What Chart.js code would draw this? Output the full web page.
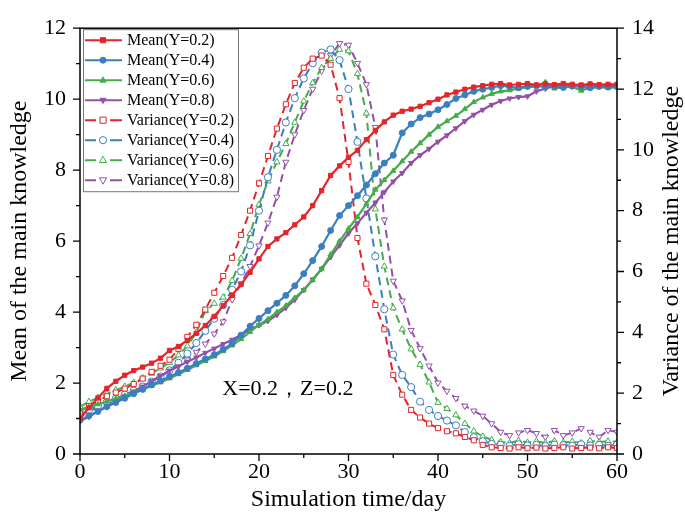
<!DOCTYPE html>
<html><head><meta charset="utf-8">
<script src="https://cdn.jsdelivr.net/npm/chart.js@4"></script>
<style>html,body{margin:0;padding:0;background:#fff}#wrap{width:685px;height:513px}</style>
</head><body><div id="wrap"><canvas id="c" width="685" height="513"></canvas></div>
<script>
// ---------------- DATA ----------------
const days = [0,1,2,3,4,5,6,7,8,9,10,11,12,13,14,15,16,17,18,19,20,21,22,23,24,25,26,27,28,29,30,
  31,32,33,34,35,36,37,38,39,40,41,42,43,44,45,46,47,48,49,50,51,52,53,54,55,56,57,58,59,60];
const xTicks = [0,10,20,30,40,50,60];
const meanY02 = [1.00,1.30,1.58,1.85,2.05,2.22,2.35,2.45,2.56,2.70,2.92,3.03,3.20,3.40,3.62,3.88,4.18,4.48,4.78,5.12,5.50,
  5.85,6.06,6.24,6.46,6.68,7.00,7.42,7.85,8.12,8.36,8.56,8.86,9.12,9.36,9.55,9.66,9.72,9.80,9.90,10.00,
  10.12,10.20,10.28,10.34,10.38,10.42,10.44,10.40,10.42,10.44,10.40,10.43,10.41,10.44,10.42,10.40,10.43,10.41,10.42,10.42];
const meanY04 = [0.95,1.08,1.20,1.33,1.45,1.57,1.70,1.82,1.95,2.06,2.18,2.30,2.42,2.55,2.68,2.80,2.95,3.12,3.35,3.60,3.82,
  4.04,4.25,4.47,4.74,5.08,5.45,5.85,6.30,6.72,7.00,7.28,7.58,7.90,8.20,8.42,9.05,9.30,9.48,9.58,9.70,
  9.85,10.02,10.12,10.22,10.28,10.33,10.38,10.35,10.32,10.36,10.38,10.34,10.36,10.33,10.37,10.35,10.32,10.36,10.34,10.36];
const meanY06 = [1.25,1.32,1.40,1.48,1.56,1.64,1.73,1.82,1.92,2.02,2.13,2.25,2.37,2.50,2.62,2.75,2.90,3.06,3.24,3.44,3.64,
  3.80,4.00,4.18,4.40,4.62,4.90,5.22,5.62,6.00,6.35,6.68,7.05,7.45,7.72,7.98,8.25,8.52,8.76,9.00,9.22,
  9.38,9.53,9.72,9.92,10.05,10.15,10.22,10.25,10.30,10.34,10.36,10.48,10.30,10.34,10.35,10.24,10.32,10.34,10.32,10.33];
const meanY08 = [0.92,1.05,1.20,1.35,1.50,1.63,1.76,1.90,2.05,2.20,2.35,2.47,2.60,2.72,2.85,2.97,3.10,3.22,3.36,3.50,3.63,
  3.75,3.92,4.12,4.35,4.62,4.92,5.22,5.55,5.88,6.22,6.50,6.80,7.08,7.38,7.68,7.92,8.20,8.42,8.60,8.80,
  8.98,9.18,9.38,9.56,9.70,9.84,9.95,10.02,10.06,10.08,10.22,10.30,10.36,10.38,10.36,10.40,10.38,10.36,10.40,10.38];
const varY02 = [1.40,1.58,1.75,1.90,2.02,2.15,2.30,2.48,2.70,2.90,3.10,3.45,3.85,4.25,4.75,5.30,5.85,6.45,7.20,8.00,8.90,
  9.80,10.70,11.50,12.20,12.70,13.00,13.10,12.80,11.70,9.60,7.10,5.60,4.90,4.10,2.60,1.95,1.45,1.20,1.00,0.85,
  0.75,0.68,0.56,0.45,0.30,0.22,0.20,0.18,0.22,0.19,0.21,0.18,0.20,0.22,0.18,0.20,0.21,0.19,0.22,0.20];
const varY04 = [1.30,1.45,1.58,1.70,1.82,1.95,2.08,2.22,2.38,2.55,2.75,3.00,3.30,3.65,4.05,4.45,4.90,5.40,6.00,6.86,8.00,
  9.10,10.00,10.90,11.70,12.35,12.85,13.20,13.30,12.95,12.00,10.26,8.40,6.50,4.76,3.27,2.60,2.20,1.72,1.45,1.25,
  1.10,0.94,0.72,0.55,0.42,0.33,0.30,0.27,0.32,0.28,0.30,0.26,0.31,0.29,0.27,0.32,0.28,0.30,0.27,0.31];
const varY06 = [1.55,1.72,1.85,1.98,2.10,2.22,2.35,2.50,2.65,2.82,3.00,3.25,3.55,4.00,4.70,4.95,5.15,5.70,6.43,7.24,8.20,
  8.97,9.60,10.20,10.90,11.60,12.20,12.70,13.00,13.30,13.25,12.50,11.20,8.05,6.17,4.80,4.10,3.45,2.94,2.36,1.69,
  1.49,1.28,1.00,0.75,0.58,0.46,0.40,0.36,0.44,0.38,0.42,0.36,0.43,0.38,0.41,0.36,0.44,0.39,0.42,0.40];
const varY08 = [1.30,1.42,1.52,1.62,1.75,1.88,2.02,2.20,2.40,2.55,2.72,2.90,3.10,3.35,3.62,3.95,4.35,5.08,5.60,6.17,6.85,
  7.60,8.45,9.60,10.50,11.30,12.00,12.60,13.10,13.50,13.45,12.85,12.15,10.74,7.70,5.69,5.04,4.07,3.47,2.90,2.34,
  2.07,1.83,1.58,1.42,1.25,1.00,0.72,0.61,0.70,0.78,0.68,0.56,0.78,0.61,0.70,0.84,0.72,0.56,0.78,0.72];
const seriesLabels = ['Mean(Y=0.2)','Mean(Y=0.4)','Mean(Y=0.6)','Mean(Y=0.8)',
  'Variance(Y=0.2)','Variance(Y=0.4)','Variance(Y=0.6)','Variance(Y=0.8)'];
const annotationText = 'X=0.2\uFF0CZ=0.2';

// ---------------- STYLE ----------------
const FONT = "'Liberation Serif','Times New Roman',serif";
Chart.defaults.font.family = FONT;
Chart.defaults.color = '#000';
const RED='#e3262b', BLUE='#3a7fc0', GREEN='#45ac4a', PURPLE='#9450a8';

function mk(label, vals, color, style, rot, dashed, axis) {
  return {
    label, yAxisID: axis,
    data: days.map((d,i)=>({x:d, y:vals[i]})),
    borderColor: color, backgroundColor: dashed ? '#fff' : color,
    borderWidth: dashed ? 2 : 2.2, borderDash: dashed ? [8,5] : [],
    pointStyle: style, pointRotation: rot,
    pointRadius: dashed ? 3.6 : 3, pointBorderWidth: 1,
    pointBorderColor: color, pointBackgroundColor: dashed ? '#fff' : color,
    tension: 0, fill: false, _dashed: dashed
  };
}
const datasets = [
  mk(seriesLabels[0], meanY02, RED, 'rect', 0, false, 'y'),
  mk(seriesLabels[1], meanY04, BLUE, 'circle', 0, false, 'y'),
  mk(seriesLabels[2], meanY06, GREEN, 'triangle', 0, false, 'y'),
  mk(seriesLabels[3], meanY08, PURPLE, 'triangle', 180, false, 'y'),
  mk(seriesLabels[4], varY02, RED, 'rect', 0, true, 'y1'),
  mk(seriesLabels[5], varY04, BLUE, 'circle', 0, true, 'y1'),
  mk(seriesLabels[6], varY06, GREEN, 'triangle', 0, true, 'y1'),
  mk(seriesLabels[7], varY08, PURPLE, 'triangle', 180, true, 'y1'),
];

function drawMarker(ctx, style, rot, r, x, y, fill, stroke) {
  ctx.save();
  ctx.translate(x, y); ctx.rotate(rot*Math.PI/180);
  ctx.beginPath();
  if (style === 'rect') { const s = r*0.85; ctx.rect(-s,-s,2*s,2*s); }
  else if (style === 'circle') { ctx.arc(0,0,r,0,Math.PI*2); }
  else { ctx.moveTo(0,-r*1.1); ctx.lineTo(r*1.0, r*0.65); ctx.lineTo(-r*1.0, r*0.65); ctx.closePath(); }
  ctx.fillStyle = fill; ctx.fill();
  ctx.lineWidth = 1; ctx.strokeStyle = stroke; ctx.setLineDash([]); ctx.stroke();
  ctx.restore();
}

const decor = {
  id: 'decor',
  afterDraw(chart) {
    const {ctx, chartArea: a, scales} = chart;
    ctx.save();
    // frame
    ctx.strokeStyle = '#000'; ctx.lineWidth = 1.5; ctx.setLineDash([]);
    ctx.strokeRect(a.left, a.top, a.right - a.left, a.bottom - a.top);
    // ticks
    ctx.lineWidth = 1.3;
    ctx.beginPath();
    for (let v = 0; v <= 60; v += 5) {
      const px = scales.x.getPixelForValue(v), len = v % 10 === 0 ? 7 : 4;
      ctx.moveTo(px, a.bottom); ctx.lineTo(px, a.bottom + len);
    }
    for (let v = 0; v <= 12; v += 1) {
      const py = scales.y.getPixelForValue(v), len = v % 2 === 0 ? 7 : 4;
      ctx.moveTo(a.left, py); ctx.lineTo(a.left - len, py);
    }
    for (let v = 0; v <= 14; v += 1) {
      const py = scales.y1.getPixelForValue(v), len = v % 2 === 0 ? 7 : 4;
      ctx.moveTo(a.right, py); ctx.lineTo(a.right + len, py);
    }
    ctx.stroke();
    // right axis title (reads bottom-to-top)
    ctx.fillStyle = '#000';
    ctx.font = '24px ' + FONT;
    ctx.save();
    ctx.translate(672, (a.top + a.bottom)/2);
    ctx.rotate(-Math.PI/2);
    ctx.textAlign = 'center'; ctx.textBaseline = 'middle';
    ctx.fillText('Variance of the main knowledge', 0, 0);
    ctx.restore();
    // annotation
    ctx.font = '22px ' + FONT;
    ctx.textAlign = 'left'; ctx.textBaseline = 'middle';
    ctx.fillText(annotationText, scales.x.getPixelForValue(15.9), scales.y.getPixelForValue(1.83));
    // legend
    const lx = a.left + 3, ly = a.top + 1, lw = 155, lh = 162;
    ctx.fillStyle = '#fff'; ctx.fillRect(lx, ly, lw, lh);
    ctx.strokeStyle = '#777'; ctx.lineWidth = 1; ctx.strokeRect(lx + 0.5, ly + 0.5, lw, lh);
    ctx.font = '16px ' + FONT;
    chart.data.datasets.forEach((d, i) => {
      const y = ly + 11 + i * 20;
      ctx.strokeStyle = d.borderColor; ctx.lineWidth = 2; ctx.setLineDash([]);
      ctx.beginPath();
      if (d._dashed) {
        ctx.moveTo(lx + 2, y); ctx.lineTo(lx + 13, y);
        ctx.moveTo(lx + 27, y); ctx.lineTo(lx + 39, y);
      } else {
        ctx.moveTo(lx + 2, y); ctx.lineTo(lx + 39, y);
      }
      ctx.stroke();
      drawMarker(ctx, d.pointStyle, d.pointRotation, d._dashed ? 3.6 : 3, lx + 20, y,
        d.pointBackgroundColor, d.pointBorderColor);
      ctx.fillStyle = '#000';
      ctx.textAlign = 'left'; ctx.textBaseline = 'middle';
      ctx.fillText(d.label, lx + 44, y + 1);
    });
    ctx.restore();
  }
};

new Chart(document.getElementById('c'), {
  type: 'line',
  data: { datasets },
  options: {
    responsive: false, animation: false, devicePixelRatio: 1,
    layout: { padding: { top: 21, left: 0, right: 0, bottom: 0 } },
    plugins: { legend: { display: false }, tooltip: { enabled: false } },
    scales: {
      x: {
        type: 'linear', position: 'bottom', min: 0, max: 60,
        afterBuildTicks: s => { s.ticks = xTicks.map(v => ({ value: v })); },
        ticks: { font: { size: 22 }, padding: 5, maxRotation: 0, color: '#000' },
        grid: { display: false, drawTicks: false }, border: { display: false },
        title: { display: true, text: 'Simulation time/day', font: { size: 24, lineHeight: 1 }, padding: { top: 0, bottom: 1 }, color: '#000' },
        afterFit: s => { s.height = 59; }
      },
      y: {
        position: 'left', min: 0, max: 12,
        ticks: { stepSize: 2, font: { size: 22 }, padding: 14, color: '#000' },
        grid: { display: false, drawTicks: false }, border: { display: false },
        title: { display: true, text: 'Mean of the main knowledge', font: { size: 24, lineHeight: 1 }, padding: { top: 8, bottom: 0 }, color: '#000' },
        afterFit: s => { s.width = 80; }
      },
      y1: {
        position: 'right', min: 0, max: 14,
        ticks: { stepSize: 2, font: { size: 22 }, padding: 15, color: '#000' },
        grid: { display: false, drawTicks: false }, border: { display: false },
        title: { display: false },
        afterFit: s => { s.width = 68; }
      }
    }
  },
  plugins: [decor]
});
</script></body></html>
